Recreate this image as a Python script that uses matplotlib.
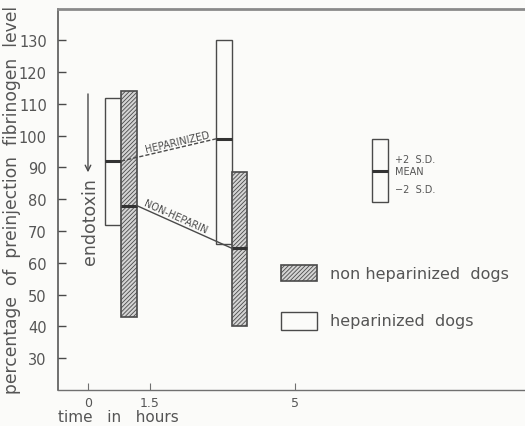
import math
import matplotlib
matplotlib.use("Agg")
import matplotlib.pyplot as plt
from matplotlib.patches import Rectangle

plt.rcParams['font.family'] = ['DejaVu Sans']
plt.rcParams['hatch.linewidth'] = 0.6
plt.rcParams['hatch.color'] = '#555555'

# ---- data ----
times = [0.8, 3.48]                 # hours
hep_mean = [92.0, 99.0]
hep_upper = [112.0, 130.0]
hep_lower = [72.0, 66.0]
non_mean = [78.0, 64.6]
non_upper = [114.0, 88.5]
non_lower = [43.0, 40.0]
yticks = [30, 40, 50, 60, 70, 80, 90, 100, 110, 120, 130]
xticks = [0, 1.5, 5]
xticklabels = ["0", "1.5", "5"]

INK = '#4a4a4a'
TXT = '#555555'
BG = '#fbfbf9'
HFILL = '#d4d4d4'
w = 0.38

fig = plt.figure(figsize=(5.25, 4.27), dpi=100, facecolor=BG)
ax = fig.add_axes([58/525, 1-391/427, (525-58)/525, (391-9.5)/427])
ax.set_facecolor(BG)
ax.set_xlim(-0.726, 10.58)
ax.set_ylim(20, 140)

ax.spines['right'].set_visible(False)
ax.spines['top'].set_color('#8a8a8a')
ax.spines['top'].set_linewidth(2)
ax.spines['left'].set_color(INK)
ax.spines['bottom'].set_color('#707070')
ax.spines['left'].set_linewidth(1.1)
ax.spines['bottom'].set_linewidth(1.0)

ax.set_yticks(yticks)
ax.set_yticklabels([str(v) for v in yticks], fontsize=10.5, color=TXT)
ax.set_xticks(xticks)
ax.set_xticklabels(xticklabels, fontsize=9, color=TXT)
ax.tick_params(axis='y', direction='in', length=6, width=1, color=INK, pad=8)
ax.tick_params(axis='x', direction='in', length=5, width=0.8, color='#707070', pad=4)

# bars
lo_h = [u - l for u, l in zip(hep_upper, hep_lower)]
lo_n = [u - l for u, l in zip(non_upper, non_lower)]
ax.bar([t - w for t in times], lo_h, width=w, bottom=hep_lower, align='edge',
       facecolor=BG, edgecolor=INK, linewidth=1.0, zorder=2)
ax.bar(times, lo_n, width=w, bottom=non_lower, align='edge',
       facecolor=HFILL, edgecolor=INK, linewidth=1.2, hatch='////////', zorder=2)
for t, m in zip(times, hep_mean):
    ax.plot([t - w, t], [m, m], color='#333333', lw=2.2, zorder=3, solid_capstyle='butt')
for t, m in zip(times, non_mean):
    ax.plot([t, t + w], [m, m], color='#333333', lw=2.2, zorder=3, solid_capstyle='butt')

# connecting lines
hx = [times[0], times[1] - w]
hy = [hep_mean[0], hep_mean[1]]
nx = [times[0] + w, times[1]]
ny = [non_mean[0], non_mean[1]]
ax.plot(hx, hy, color=INK, lw=1.0, ls=(0, (3, 1.5)), zorder=4)
ax.plot(nx, ny, color=INK, lw=1.0, zorder=4)


def angle(xs, ys):
    p1 = ax.transData.transform((xs[0], ys[0]))
    p2 = ax.transData.transform((xs[1], ys[1]))
    return math.degrees(math.atan2(p2[1] - p1[1], p2[0] - p1[0]))


def along(xs, ys, x):
    return ys[0] + (ys[1] - ys[0]) * (x - xs[0]) / (xs[1] - xs[0])


xh = 2.2
ax.text(xh, along(hx, hy, xh) + 0.4, "HEPARINIZED", fontsize=7, color=INK,
        rotation=angle(hx, hy), rotation_mode='anchor', ha='center', va='bottom', zorder=5)
xn = 2.08
ax.text(xn, along(nx, ny, xn) + 0.6, "NON-HEPARIN", fontsize=7, color=INK,
        rotation=angle(nx, ny), rotation_mode='anchor', ha='center', va='bottom', zorder=5)

# endotoxin arrow
ax.annotate("", xy=(0, 87.6), xytext=(0, 114.0),
            arrowprops=dict(arrowstyle='->', color=INK, lw=1.0, mutation_scale=10))
ax.text(0.04, 73.4, "endotoxin", rotation=90, fontsize=12.5, color=TXT,
        ha='center', va='center')

# S.D. key
T = ax.transAxes
ax.add_patch(Rectangle((0.672, 0.493), 0.035, 0.165, transform=T,
                       facecolor=BG, edgecolor=INK, lw=1.0, zorder=3))
ax.plot([0.672, 0.707], [0.575, 0.575], transform=T, color='#333333', lw=2.2,
        solid_capstyle='butt', zorder=4)
ax.text(0.722, 0.606, "+2  S.D.", transform=T, fontsize=7, color=TXT, va='center')
ax.text(0.722, 0.575, "MEAN", transform=T, fontsize=7, color=TXT, va='center')
ax.text(0.722, 0.527, "\u22122  S.D.", transform=T, fontsize=7, color=TXT, va='center')

# group key
ax.add_patch(Rectangle((0.4775, 0.286), 0.077, 0.042, transform=T,
                       facecolor=HFILL, edgecolor=INK, lw=1.2, hatch='////////', zorder=3))
ax.text(0.582, 0.306, "non heparinized  dogs", transform=T, fontsize=11.5,
        color=TXT, va='center')
ax.add_patch(Rectangle((0.4775, 0.158), 0.077, 0.047, transform=T,
                       facecolor=BG, edgecolor=INK, lw=1.0, zorder=3))
ax.text(0.582, 0.181, "heparinized  dogs", transform=T, fontsize=11.5,
        color=TXT, va='center')

# axis labels
fig.text(12/525, 1 - 200/427, "percentage  of  preinjection  fibrinogen  level",
         rotation=90, fontsize=12.3, color=TXT, ha='center', va='center')
fig.text(58/525, 1 - 418/427, "time   in   hours", fontsize=11, color=TXT,
         ha='left', va='center')

fig.savefig("out.png", dpi=100, facecolor=BG)
